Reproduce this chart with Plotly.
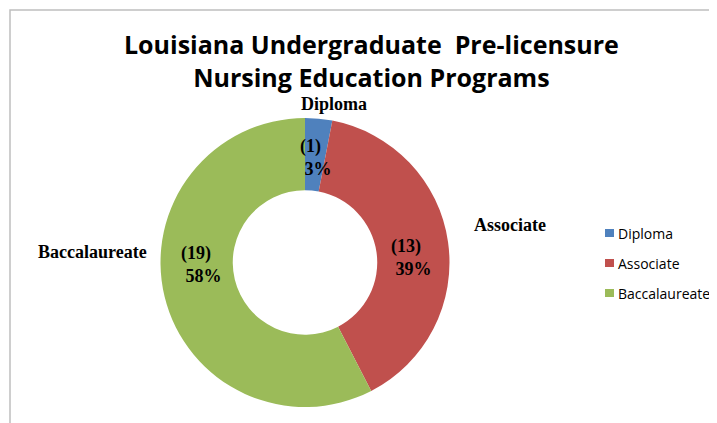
import plotly.graph_objects as go

categories = ["Diploma", "Associate", "Baccalaureate"]
counts = [1, 13, 19]
colors = ["#4F81BD", "#C0504D", "#9BBB59"]

OFF = 8  # default page body margin
W, H = 717 - OFF, 423 - OFF
total = sum(counts)
pcts = [round(100 * c / total) for c in counts]

def px(x):
    return (x - OFF) / W

def py(y):
    return 1 - (y - OFF) / H

fig = go.Figure()
fig.add_trace(go.Pie(
    labels=categories, values=counts, hole=0.5, sort=False,
    direction="clockwise", rotation=0,
    marker=dict(colors=colors, line=dict(width=0)),
    textinfo="none", hoverinfo="label+value+percent",
    domain=dict(x=[px(160), px(450)], y=[py(407), py(118)]),
    showlegend=False,
))

serif = "Liberation Serif"
inside_pos = [(316, 157), (411, 257), (201, 264)]
outside_pos = [(334, 104), (510, 225), (92, 252)]
annotations = []
for i, cat in enumerate(categories):
    annotations.append(dict(
        x=px(inside_pos[i][0]), y=py(inside_pos[i][1]), xref="paper", yref="paper",
        xanchor="center", yanchor="middle",
        text=f"<b>({counts[i]})<br> {pcts[i]}%</b>", showarrow=False, align="left",
        font=dict(family=serif, size=18, color="#000000"),
    ))
    annotations.append(dict(
        x=px(outside_pos[i][0]), y=py(outside_pos[i][1]), xref="paper", yref="paper",
        xanchor="center", yanchor="middle",
        text=f"<b>{cat}</b>", showarrow=False,
        font=dict(family=serif, size=18, color="#000000"),
    ))

annotations.append(dict(
    x=px(371), y=py(61), xref="paper", yref="paper",
    xanchor="center", yanchor="middle",
    text="<b>Louisiana Undergraduate  Pre-licensure<br>Nursing Education Programs</b>",
    showarrow=False, font=dict(family="Open Sans", size=25, color="#000000"),
))

shapes = [dict(type="rect", xref="paper", yref="paper",
               x0=px(10), x1=1.2, y0=-0.2, y1=py(10),
               line=dict(color="#BFBFBF", width=1.5), fillcolor="rgba(0,0,0,0)")]
leg_y = [233, 263, 293]
for i, cat in enumerate(categories):
    shapes.append(dict(type="rect", xref="paper", yref="paper",
                       x0=px(605), x1=px(614), y0=py(leg_y[i] + 4), y1=py(leg_y[i] - 4),
                       fillcolor=colors[i], line=dict(width=0)))
    annotations.append(dict(
        x=px(616), y=py(leg_y[i]), xref="paper", yref="paper",
        xanchor="left", yanchor="middle",
        text=cat, showarrow=False,
        font=dict(family="Open Sans", size=14, color="#000000"),
    ))

fig.update_layout(
    width=W, height=H, margin=dict(l=0, r=0, t=0, b=0),
    paper_bgcolor="white", plot_bgcolor="white",
    annotations=annotations, shapes=shapes,
)
fig.write_html("out.html")
